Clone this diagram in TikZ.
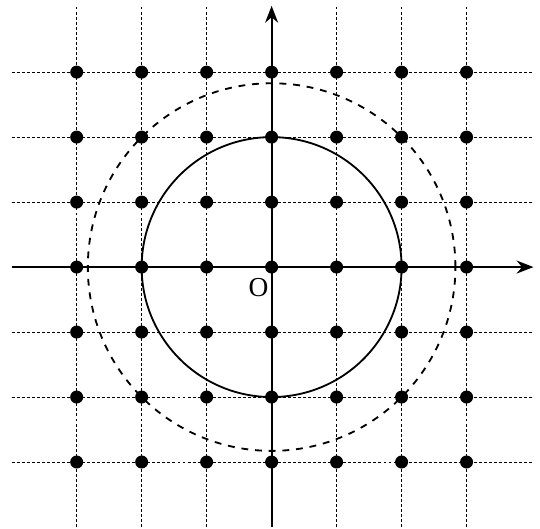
\documentclass[tikz,border=0pt]{standalone}
\usepackage{fontspec}
\setmainfont{Liberation Serif}
\usetikzlibrary{arrows.meta}

\begin{document}
\begin{tikzpicture}[x=1cm,y=1cm,>={Stealth[length=2.6mm,width=2mm]},
  gridline/.style={line width=0.4pt,dash pattern=on 1.3pt off 0.9pt},
  axisline/.style={line width=0.9pt,->},
  lattice/.style={fill=black},
  every node/.style={font=\fontsize{12}{14}\selectfont}]
\useasboundingbox (-4.18,-4.03) rectangle (4.13,4.11);
% grid
\foreach \i in {-3,...,3}{
  \draw[gridline] (-4,\i) -- (4,\i);
  \draw[gridline] (\i,-4) -- (\i,4);
}
% axes
\coordinate (xl) at (-4,0);
\coordinate (xr) at (4.03,0);
\coordinate (yb) at (0,-4);
\coordinate (yt) at (0,4.02);
\draw[axisline] (xl) -- (xr);
\draw[axisline] (yb) -- (yt);
% circles
\draw[line width=0.8pt] (0,0) circle (2);
\draw[line width=0.8pt,dashed] (0,0) circle ({2*sqrt(2)});
% lattice points
\foreach \i in {-3,...,3}{
  \foreach \j in {-3,...,3}{
    \fill[lattice] (\i,\j) circle (0.1);
  }
}
\node (orig) at (-0.2,-0.31) {O};
\end{tikzpicture}
\end{document}
